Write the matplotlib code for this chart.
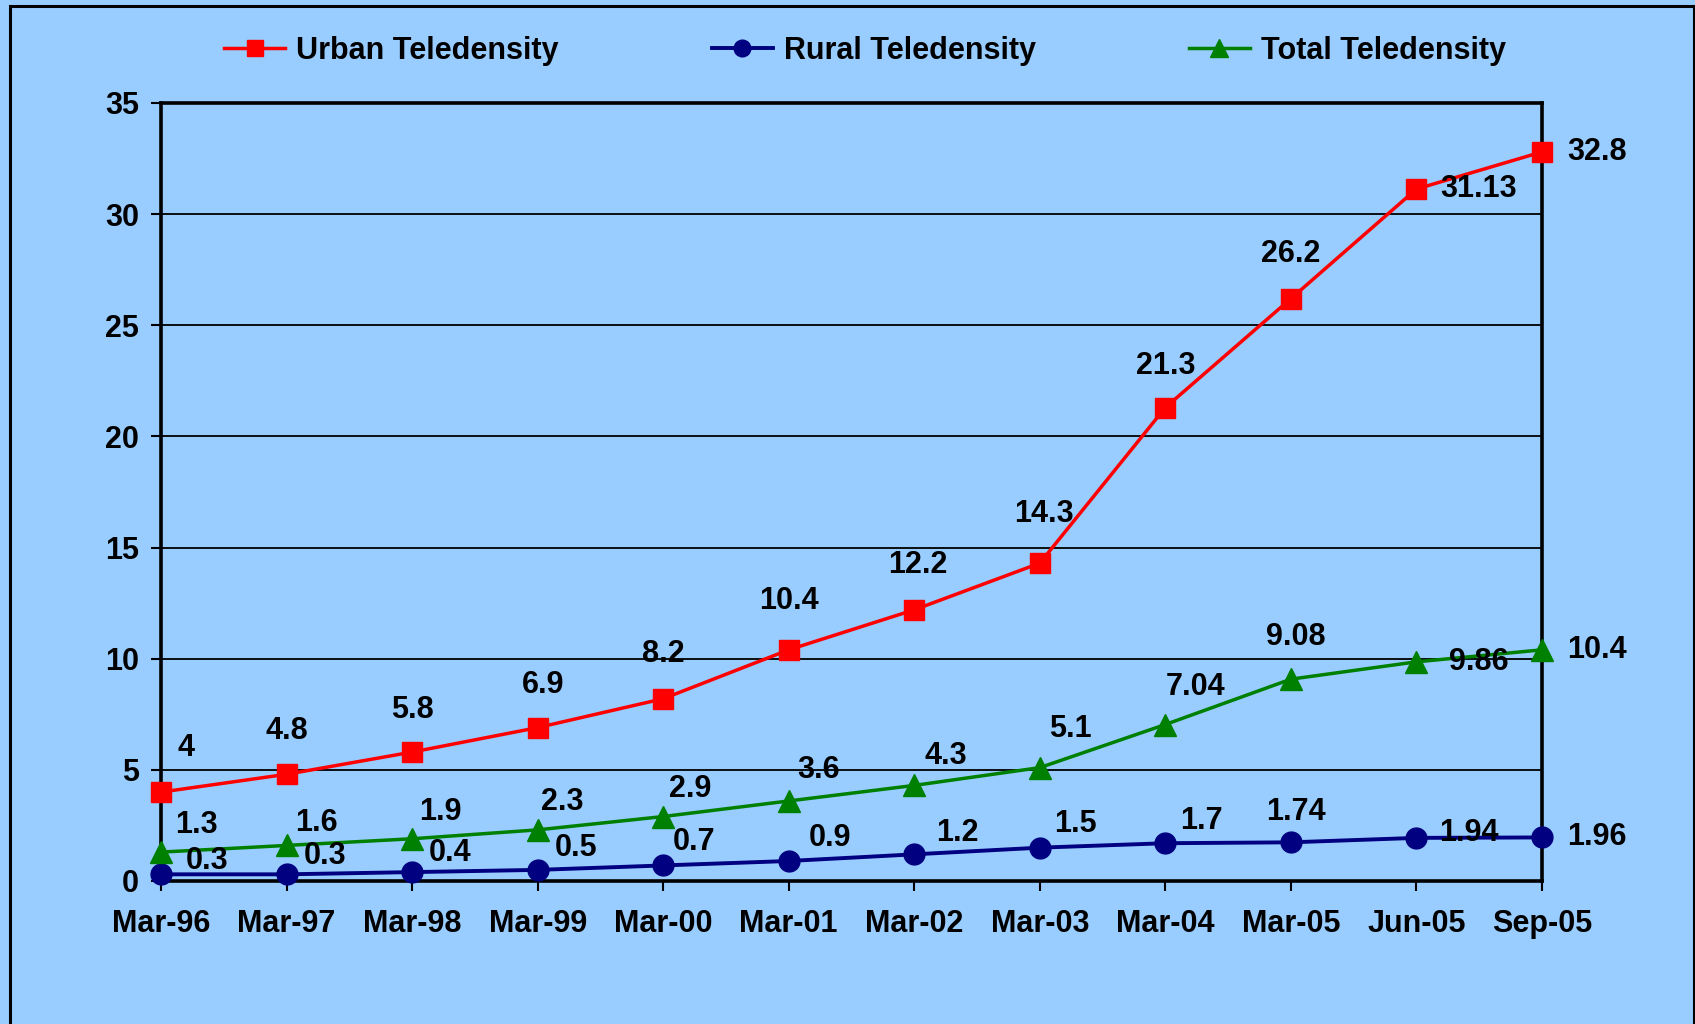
import matplotlib.pyplot as plt
from matplotlib.patches import Rectangle
import numpy as np

# data
periods = ['Mar-96', 'Mar-97', 'Mar-98', 'Mar-99', 'Mar-00', 'Mar-01',
           'Mar-02', 'Mar-03', 'Mar-04', 'Mar-05', 'Jun-05', 'Sep-05']
urban = [4, 4.8, 5.8, 6.9, 8.2, 10.4, 12.2, 14.3, 21.3, 26.2, 31.13, 32.8]
rural = [0.3, 0.3, 0.4, 0.5, 0.7, 0.9, 1.2, 1.5, 1.7, 1.74, 1.94, 1.96]
total = [1.3, 1.6, 1.9, 2.3, 2.9, 3.6, 4.3, 5.1, 7.04, 9.08, 9.86, 10.4]

# label offsets in pixels (dx, dy) - layout only
urban_off = [(25, 44), (0, 43), (0, 42), (5, 43), (0, 45), (0, 49),
             (4, 45), (4, 49), (0, 42), (0, 45), (62, 0), (55, 0)]
total_off = [(35, 27), (30, 22), (28, 27), (25, 28), (27, 28), (30, 31),
             (32, 29), (31, 39), (30, 38), (5, 42), (62, 0), (55, 0)]
rural_off = [(46, 13), (39, 18), (38, 19), (38, 22), (31, 23), (41, 23),
             (43, 21), (36, 24), (36, 22), (5, 30), (52, 5), (55, 0)]

plt.rcParams['font.family'] = ['Liberation Sans', 'DejaVu Sans']
plt.rcParams['font.weight'] = 'bold'

bg = '#99CCFF'
W, H = 1695, 1024
fig = plt.figure(figsize=(W / 100, H / 100), dpi=100, facecolor=bg)
ax = fig.add_axes([161 / W, 1 - 881 / H, (1542 - 161) / W, (881 - 103) / H])
ax.set_facecolor(bg)

# outer frame
fig.patches.append(Rectangle((10 / W, -0.05), (1694 - 10) / W, 1.05 - 6 / H,
                             transform=fig.transFigure, fill=False,
                             edgecolor='black', linewidth=2.2, zorder=0))

x = np.arange(len(periods))

ax.plot(x, urban, color='#FF0000', linewidth=2.5, marker='s', markersize=15,
        label='Urban Teledensity', clip_on=False, zorder=4)
ax.plot(x, rural, color='#000080', linewidth=2.8, marker='o', markersize=15,
        label='Rural Teledensity', clip_on=False, zorder=4)
ax.plot(x, total, color='#008000', linewidth=2.5, marker='^', markersize=16,
        label='Total Teledensity', clip_on=False, zorder=4)

fs = 22
for vals, offs in ((urban, urban_off), (total, total_off), (rural, rural_off)):
    for xi, v, (dx, dy) in zip(x, vals, offs):
        ax.annotate(f'{v:g}', (xi, v), xytext=(dx, dy), textcoords='offset pixels',
                    ha='center', va='center', fontsize=fs, fontweight='bold',
                    color='black', zorder=5)

ax.set_xlim(0, len(periods) - 1)
ax.set_ylim(0, 35)
ax.set_yticks(np.arange(0, 36, 5))
ax.set_xticks(x)
ax.set_xticklabels(periods)
ax.tick_params(axis='both', labelsize=fs, width=1.5, length=7, direction='out',
               color='black')
ax.tick_params(axis='y', pad=9)
ax.tick_params(axis='x', pad=13)
for lab in ax.get_xticklabels() + ax.get_yticklabels():
    lab.set_fontweight('bold')

ax.grid(axis='y', color='black', linewidth=1.3)
ax.set_axisbelow(True)
for sp in ax.spines.values():
    sp.set_linewidth(2.6)
    sp.set_color('black')

fig.legend(loc='center left', bbox_to_anchor=(209 / W, 1 - 51 / H), ncol=3,
           frameon=False, fontsize=fs, borderpad=0, handlelength=2.0,
           handletextpad=0.36, columnspacing=5.0, markerscale=0.8)

plt.savefig('out.png', dpi=100, facecolor=bg)
